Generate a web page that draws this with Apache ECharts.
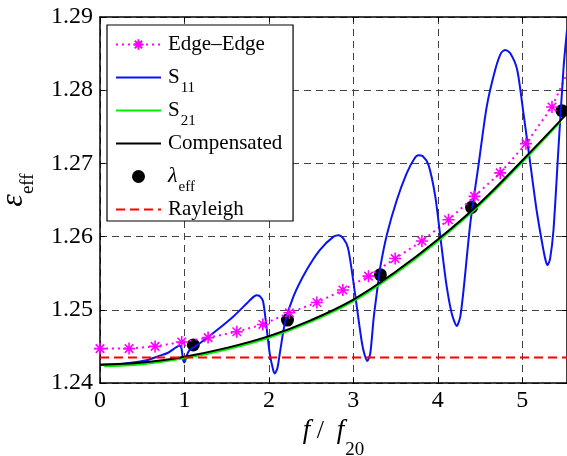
<!DOCTYPE html>
<html>
<head>
<meta charset="utf-8">
<script src="https://cdn.jsdelivr.net/npm/echarts@6/dist/echarts.min.js"></script>
<style>html,body{margin:0;padding:0;background:#fff;}#c{width:567px;height:456px;}</style>
</head>
<body>
<div id="c"></div>
<script>
// ---- data (x = f/f20, y = eps_eff) ----
var edgeX = [0, 0.344, 0.652, 0.968, 1.280, 1.620, 1.928, 2.243, 2.568, 2.876, 3.179, 3.495, 3.812, 4.127, 4.435, 4.739, 5.044, 5.352, 5.667];
var edgeY = [1.2447, 1.2447, 1.2450, 1.2456, 1.2462, 1.2470, 1.2480, 1.2496, 1.2510, 1.2527, 1.2546, 1.2570, 1.2594, 1.2623, 1.2655, 1.2687, 1.2727, 1.2777, 1.2858];

var s11X = [0, 0.25, 0.45, 0.55, 0.70, 0.80, 0.905, 0.945, 0.965, 0.985, 1.0, 1.025, 1.055, 1.19, 1.36, 1.58, 1.74, 1.81, 1.855, 1.89, 1.93, 1.97, 2.01, 2.05, 2.07, 2.10, 2.13, 2.19, 2.29, 2.445, 2.605, 2.765, 2.825, 2.885, 2.935, 2.98, 3.04, 3.10, 3.13, 3.165, 3.20, 3.24, 3.28, 3.32, 3.40, 3.515, 3.63, 3.72, 3.77, 3.82, 3.89, 3.97, 4.03, 4.10, 4.165, 4.225, 4.265, 4.305, 4.385, 4.485, 4.58, 4.68, 4.75, 4.80, 4.86, 4.94, 5.015, 5.095, 5.17, 5.25, 5.28, 5.30, 5.33, 5.37, 5.43, 5.49, 5.53];
var s11Y = [1.2425, 1.2426, 1.2429, 1.2431, 1.2437, 1.2441, 1.2449, 1.2451, 1.2447, 1.2431, 1.2428, 1.2437, 1.2444, 1.2455, 1.2470, 1.2491, 1.2509, 1.2517, 1.2520, 1.2519, 1.2512, 1.2478, 1.2440, 1.2418, 1.2413, 1.2420, 1.2441, 1.2482, 1.2518, 1.2554, 1.2582, 1.2600, 1.2602, 1.2597, 1.2585, 1.2555, 1.2505, 1.2456, 1.2440, 1.2430, 1.2440, 1.2488, 1.2525, 1.2559, 1.2604, 1.2650, 1.2686, 1.2706, 1.2711, 1.2710, 1.2698, 1.2655, 1.2600, 1.2536, 1.2495, 1.2478, 1.2490, 1.2527, 1.2618, 1.2700, 1.2778, 1.2828, 1.2851, 1.2855, 1.2850, 1.2828, 1.2768, 1.2700, 1.2636, 1.2582, 1.2566, 1.2561, 1.2570, 1.2609, 1.2723, 1.2832, 1.2882];

var compX = [0, 0.5, 1.0, 1.5, 2.0, 2.5, 3.0, 3.5, 4.0, 4.5, 5.0, 5.53];
var compY = [1.2425, 1.2428, 1.2436, 1.2448, 1.2464, 1.2486, 1.2514, 1.2552, 1.2596, 1.2646, 1.2704, 1.2768];

var s21X = [0.05, 0.5, 1.0, 1.5, 2.0, 2.5, 3.0, 3.5, 4.0, 4.5, 5.0, 5.45];
var s21Y = [1.2423, 1.2426, 1.2434, 1.2446, 1.2462, 1.2484, 1.2512, 1.2550, 1.2594, 1.2644, 1.2702, 1.2757];

var lamX = [1.105, 2.22, 3.32, 4.40, 5.47];
var lamY = [1.2452, 1.2486, 1.2548, 1.2640, 1.2772];

var rayX = [0, 5.53];
var rayY = [1.2435, 1.2435];

var xTicks = [0, 1, 2, 3, 4, 5];
var yTicks = [1.24, 1.25, 1.26, 1.27, 1.28, 1.29];
var legendNames = ['Edge–Edge', 'S11', 'S21', 'Compensated', 'λeff', 'Rayleigh'];

function zip(a, b) { return a.map(function (v, i) { return [v, b[i]]; }); }

var FONT = "'Liberation Serif', 'Times New Roman', serif";
var asterisk = 'path://M0,-10L0,10M-10,0L10,0M-7.07,-7.07L7.07,7.07M-7.07,7.07L7.07,-7.07';
var tickRich = {t: {fontFamily: FONT, fontSize: 24, color: '#000'}};

var chart = echarts.init(document.getElementById('c'), null, {renderer: 'canvas'});
var gridDash = {color: '#444', width: 1, type: [7, 5]};
var option = {
  animation: false,
  backgroundColor: '#fff',
  textStyle: {fontFamily: FONT},
  grid: {left: 100, right: 0, top: 17, bottom: 73, containLabel: false, outerBoundsMode: 'none'},
  xAxis: [{
    type: 'value', min: 0, max: 5.53, interval: 1,
    axisLine: {show: true, lineStyle: {color: '#000', width: 1.5}},
    axisTick: {show: true, inside: true, length: 5, lineStyle: {color: '#000'}},
    splitLine: {show: true, lineStyle: gridDash},
    axisLabel: {show: true, showMaxLabel: false, color: '#000', fontFamily: FONT, fontSize: 24, margin: 6, rich: tickRich,
      formatter: function (v) { return xTicks.indexOf(v) >= 0 ? '{t|' + v + '}' : ''; }},
    name: '{i|f} /  {i|f}{s|20}', nameLocation: 'middle', nameGap: 33, nameMoveOverlap: false,
    nameTextStyle: {color: '#000', fontFamily: FONT, fontSize: 26, lineHeight: 30,
      rich: {i: {fontFamily: FONT, fontStyle: 'italic', fontSize: 27, color: '#000', lineHeight: 30},
             s: {fontFamily: FONT, fontSize: 19, color: '#000', verticalAlign: 'middle', lineHeight: 30, padding: [38, 0, 0, 1]}}}
  }, {
    type: 'value', position: 'top', min: 0, max: 5.53, interval: 1,
    axisLine: {show: true, onZero: false, lineStyle: {color: '#000', width: 1.5}},
    axisTick: {show: true, inside: true, length: 5, lineStyle: {color: '#000'}},
    axisLabel: {show: false}, splitLine: {show: false}
  }],
  yAxis: [{
    type: 'value', min: 1.24, max: 1.29, interval: 0.01,
    axisLine: {show: true, lineStyle: {color: '#000', width: 1.5}},
    axisTick: {show: true, inside: true, length: 5, lineStyle: {color: '#000'}},
    splitLine: {show: true, lineStyle: gridDash},
    axisLabel: {color: '#000', fontFamily: FONT, fontSize: 24, margin: 7, rich: tickRich,
      formatter: function (v) { return '{t|' + v.toFixed(2) + '}'; }},
    name: '{e|ε}{s|eff}', nameLocation: 'middle', nameGap: 69, nameRotate: 90,
    nameTextStyle: {color: '#000', fontFamily: FONT, lineHeight: 34, padding: [0, 0, 0, 20],
      rich: {e: {fontFamily: FONT, fontStyle: 'italic', fontSize: 32, color: '#000', lineHeight: 34},
             s: {fontFamily: FONT, fontSize: 19, color: '#000', verticalAlign: 'middle', lineHeight: 34, padding: [28, 0, 0, 0]}}}
  }, {
    type: 'value', position: 'right', min: 1.24, max: 1.29, interval: 0.01,
    axisLine: {show: true, onZero: false, lineStyle: {color: '#000', width: 1.5}},
    axisTick: {show: true, inside: true, length: 5, lineStyle: {color: '#000'}},
    axisLabel: {show: false}, splitLine: {show: false}
  }],
  legend: {
    orient: 'vertical', left: 107, top: 25,
    padding: [1, 6, -7, 8], itemGap: -4, itemWidth: 45, itemHeight: 13,
    backgroundColor: '#fff', borderColor: '#000', borderWidth: 1.2, borderRadius: 0,
    data: legendNames.map(function (n) {
      if (n === 'Edge–Edge' || n === 'λeff') return {name: n};
      return {name: n, itemStyle: {opacity: 0}};
    }),
    formatter: function (name) {
      if (name === 'S11') return '{n|S}{s|11}';
      if (name === 'S21') return '{n|S}{s|21}';
      if (name === 'λeff') return '{l|λ}{s|eff}';
      return '{n|' + name + '}{s| }';
    },
    textStyle: {fontFamily: FONT, fontSize: 21, color: '#000', lineHeight: 22, padding: [0, 0, 0, 2],
      rich: {n: {fontFamily: FONT, fontSize: 21, color: '#000', lineHeight: 22},
             l: {fontFamily: FONT, fontSize: 22, fontStyle: 'italic', color: '#000', lineHeight: 22},
             s: {fontFamily: FONT, fontSize: 15, color: '#000', verticalAlign: 'middle', lineHeight: 22, padding: [22, 0, 0, 1]}}}
  },
  series: [
    {name: 'Edge–Edge', type: 'line', data: zip(edgeX, edgeY), clip: true,
     symbol: asterisk, symbolSize: 12, showSymbol: true, symbolKeepAspect: true,
     itemStyle: {color: '#ff00ff', borderColor: '#ff00ff', borderWidth: 1.6},
     lineStyle: {color: '#ff00ff', width: 2, type: [2, 4]}},
    {name: 'S11', type: 'line', data: zip(s11X, s11Y), clip: true, symbol: 'none', smooth: 0.25,
     itemStyle: {color: '#0000ff'}, lineStyle: {color: '#0a14f0', width: 2}},
    {name: 'S21', type: 'line', data: zip(s21X, s21Y), clip: true, symbol: 'none', smooth: 0.4,
     itemStyle: {color: '#00ff00'}, lineStyle: {color: '#00ee00', width: 2.4}},
    {name: 'Compensated', type: 'line', data: zip(compX, compY), clip: true, symbol: 'none', smooth: 0.4,
     itemStyle: {color: '#000'}, lineStyle: {color: '#000', width: 2}},
    {name: 'λeff', type: 'scatter', data: zip(lamX, lamY), symbol: 'circle', symbolSize: 13,
     itemStyle: {color: '#000', opacity: 1}},
    {name: 'Rayleigh', type: 'line', data: zip(rayX, rayY), clip: true, symbol: 'none',
     itemStyle: {color: '#ff0000'}, lineStyle: {color: '#ff0000', width: 2, type: [9, 5]}}
  ]
};
chart.setOption(option);
</script>
</body>
</html>
